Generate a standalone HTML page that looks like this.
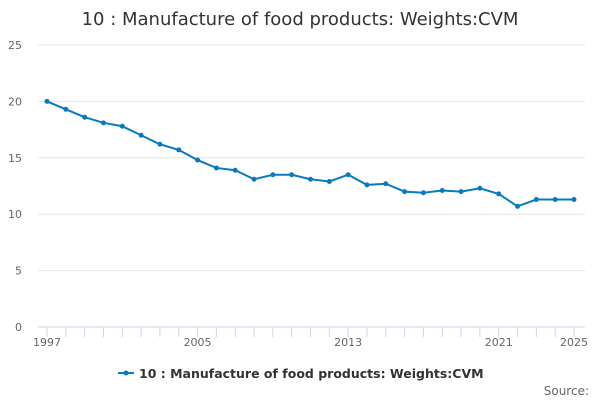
<!DOCTYPE html>
<html><head><meta charset="utf-8"><style>
body{margin:0;background:#fff;font-family:"Liberation Sans","DejaVu Sans",sans-serif;}
svg text{font-family:"DejaVu Sans","Liberation Sans",sans-serif;}
</style></head><body>
<svg id="chart" width="600" height="400" xmlns="http://www.w3.org/2000/svg">
<text x="300" y="25" text-anchor="middle" font-size="18" fill="#333">10 : Manufacture of food products: Weights:CVM</text>
<g id="grid"></g><g id="axes"></g><g id="series"></g>
<g>
<line x1="118" y1="373" x2="134" y2="373" stroke="#0a7abf" stroke-width="2"/>
<circle cx="126" cy="373" r="2.5" fill="#0a7abf"/>
<text x="139" y="378" font-size="12.5" font-weight="bold" fill="#333">10 : Manufacture of food products: Weights:CVM</text>
</g>
<text x="589" y="395" text-anchor="end" font-size="12" fill="#666">Source:</text>
</svg>
<script>
const years=[1997,1998,1999,2000,2001,2002,2003,2004,2005,2006,2007,2008,2009,2010,2011,2012,2013,2014,2015,2016,2017,2018,2019,2020,2021,2022,2023,2024,2025];
const values=[20.0,19.3,18.6,18.1,17.8,17.0,16.2,15.7,14.8,14.1,13.9,13.1,13.5,13.5,13.1,12.9,13.5,12.6,12.7,12.0,11.9,12.1,12.0,12.3,11.8,10.7,11.3,11.3,11.3];
const yTicks=[0,5,10,15,20,25];
const xLabels=[1997,2005,2013,2021,2025];
const NS="http://www.w3.org/2000/svg";
const x=v=>47+(v-1997)*(527/28);
const y=v=>327-v*(282/25);
function mk(tag,attrs,parent,txt){const e=document.createElementNS(NS,tag);for(const k in attrs)e.setAttribute(k,attrs[k]);if(txt!==undefined)e.textContent=txt;parent.appendChild(e);return e;}
const grid=document.getElementById('grid'),axes=document.getElementById('axes'),ser=document.getElementById('series');
yTicks.forEach(t=>{
 const l=mk('line',{x1:38,x2:585,y1:y(t),y2:y(t),stroke:t===0?'#ccd6eb':'#e6e6e6','stroke-width':1},grid);
 
 
 const tx=mk('text',{x:22,y:y(t)+4,'text-anchor':'end','font-size':11,fill:'#666'},axes,t);
 
 
});
years.forEach(yr=>{
 const l=mk('line',{x1:x(yr),x2:x(yr),y1:327,y2:337,stroke:'#ccd6eb'},axes);
 
 
});
xLabels.forEach(yr=>{
 const tx=mk('text',{x:x(yr),y:346,'text-anchor':'middle','font-size':11,fill:'#666'},axes,yr);
 
 
});
const p=mk('polyline',{points:years.map((yr,i)=>x(yr)+','+y(values[i])).join(' '),fill:'none',stroke:'#0a7abf','stroke-width':2},ser);


years.forEach((yr,i)=>{
 const c=mk('circle',{cx:x(yr),cy:y(values[i]),r:2.5,fill:'#0a7abf'},ser);
 
 
});
</script>
</body></html>
